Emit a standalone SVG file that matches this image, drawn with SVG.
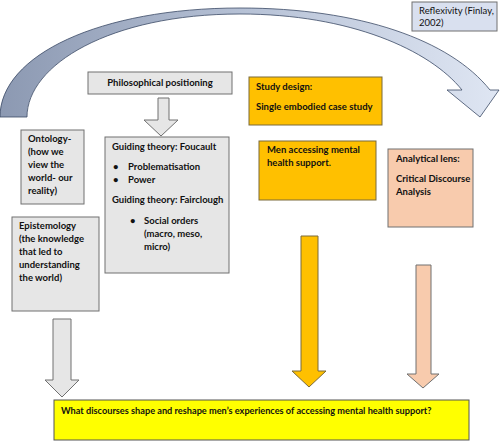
<svg xmlns="http://www.w3.org/2000/svg" width="500" height="441" viewBox="0 0 500 441">
<defs>
<linearGradient id="arcGrad" x1="0" y1="0" x2="1" y2="0">
<stop offset="0" stop-color="#8c99b2"/>
<stop offset="0.5" stop-color="#b7c2d6"/>
<stop offset="1" stop-color="#dfe6f3"/>
</linearGradient>
<style>
.t{font-family:Lato,"Liberation Sans",sans-serif;font-size:9.5px;fill:#111;}
.b{font-weight:bold;}
.grey{fill:#e6e6e6;stroke:#707070;stroke-width:1;}
.orange{fill:#ffc000;stroke:#7a6a3a;stroke-width:1;}
.peach{fill:#f8cbad;stroke:#707070;stroke-width:1;}
</style>
</defs>
<g id="connectors">
<path id="reflexivity-arc" d="M0,117 C0,55 100,8 240,8 C360,8 450,40 490,90 L499,90 L480,117 L447,90 L462,90 C430,50 350,14 240,14 C110,14 27,65 27,117 Z" fill="url(#arcGrad)" stroke="#3b4a66" stroke-width="0.8"/>
<path id="arrow-philo" d="M158,98 L169,98 L169,120 L178,120 L161,136 L144,120 L158,120 Z" class="grey"/>
<path id="arrow-epist" d="M53,319 L71,319 L71,380 L79,380 L62,397 L45,380 L53,380 Z" class="grey"/>
<path id="arrow-men" d="M301,236 L318,236 L318,371 L326,371 L309,387 L292,371 L301,371 Z" class="orange"/>
<path id="arrow-lens" d="M416,265 L431,265 L431,374 L439,374 L423,388 L407,374 L416,374 Z" class="peach"/>
</g>
<g id="reflexivity">
<rect x="412" y="2" width="85" height="29" fill="#d9e0ef" stroke="#707070"/>
<text class="t" x="419" y="14" fill="#333">Reflexivity (Finlay,</text>
<text class="t" x="419" y="26" fill="#333">2002)</text>
</g>
<g id="philosophical">
<rect x="88" y="72" width="144" height="22" class="grey"/>
<text class="t b" x="160" y="86" text-anchor="middle">Philosophical positioning</text>
</g>
<g id="guiding">
<rect x="105" y="137" width="124" height="136" class="grey"/>
<text class="t b" x="112" y="150">Guiding theory: Foucault</text>
<text class="t b" x="113" y="170">•</text>
<text class="t b" x="128" y="170">Problematisation</text>
<text class="t b" x="113" y="183">•</text>
<text class="t b" x="128" y="183">Power</text>
<text class="t b" x="112" y="203">Guiding theory: Fairclough</text>
<text class="t b" x="130" y="224">•</text>
<text class="t b" x="144" y="224">Social orders</text>
<text class="t b" x="144" y="237">(macro, meso,</text>
<text class="t b" x="144" y="250">micro)</text>
</g>
<g id="ontology">
<rect x="21" y="130" width="63" height="74" class="grey"/>
<text class="t b" x="28" y="142">Ontology-</text>
<text class="t b" x="28" y="155">(how we</text>
<text class="t b" x="28" y="168">view the</text>
<text class="t b" x="28" y="181">world- our</text>
<text class="t b" x="28" y="194">reality)</text>
</g>
<g id="epistemology">
<rect x="12" y="217" width="87" height="94" class="grey"/>
<text class="t b" x="19" y="229">Epistemology</text>
<text class="t b" x="19" y="242">(the knowledge</text>
<text class="t b" x="19" y="255">that led to</text>
<text class="t b" x="19" y="268">understanding</text>
<text class="t b" x="19" y="281">the world)</text>
</g>
<g id="study-design">
<rect x="249" y="77" width="133" height="48" class="orange"/>
<text class="t b" x="256" y="90">Study design:</text>
<text class="t b" x="256" y="110">Single embodied case study</text>
</g>
<g id="men-accessing">
<rect x="259" y="141" width="117" height="59" class="orange"/>
<text class="t b" x="267" y="153">Men accessing mental</text>
<text class="t b" x="267" y="166">health support.</text>
</g>
<g id="analytical-lens">
<rect x="388" y="149" width="85" height="78" class="peach"/>
<text class="t b" x="396" y="162">Analytical lens:</text>
<text class="t b" x="396" y="182">Critical Discourse</text>
<text class="t b" x="396" y="195">Analysis</text>
</g>
<g id="research-question">
<rect x="54" y="400" width="415" height="40" fill="#ffff00" stroke="#555"/>
<text class="t b" x="61" y="414" style="font-size:9.2px">What discourses shape and reshape men’s experiences of accessing mental health support?</text>
</g>
</svg>
